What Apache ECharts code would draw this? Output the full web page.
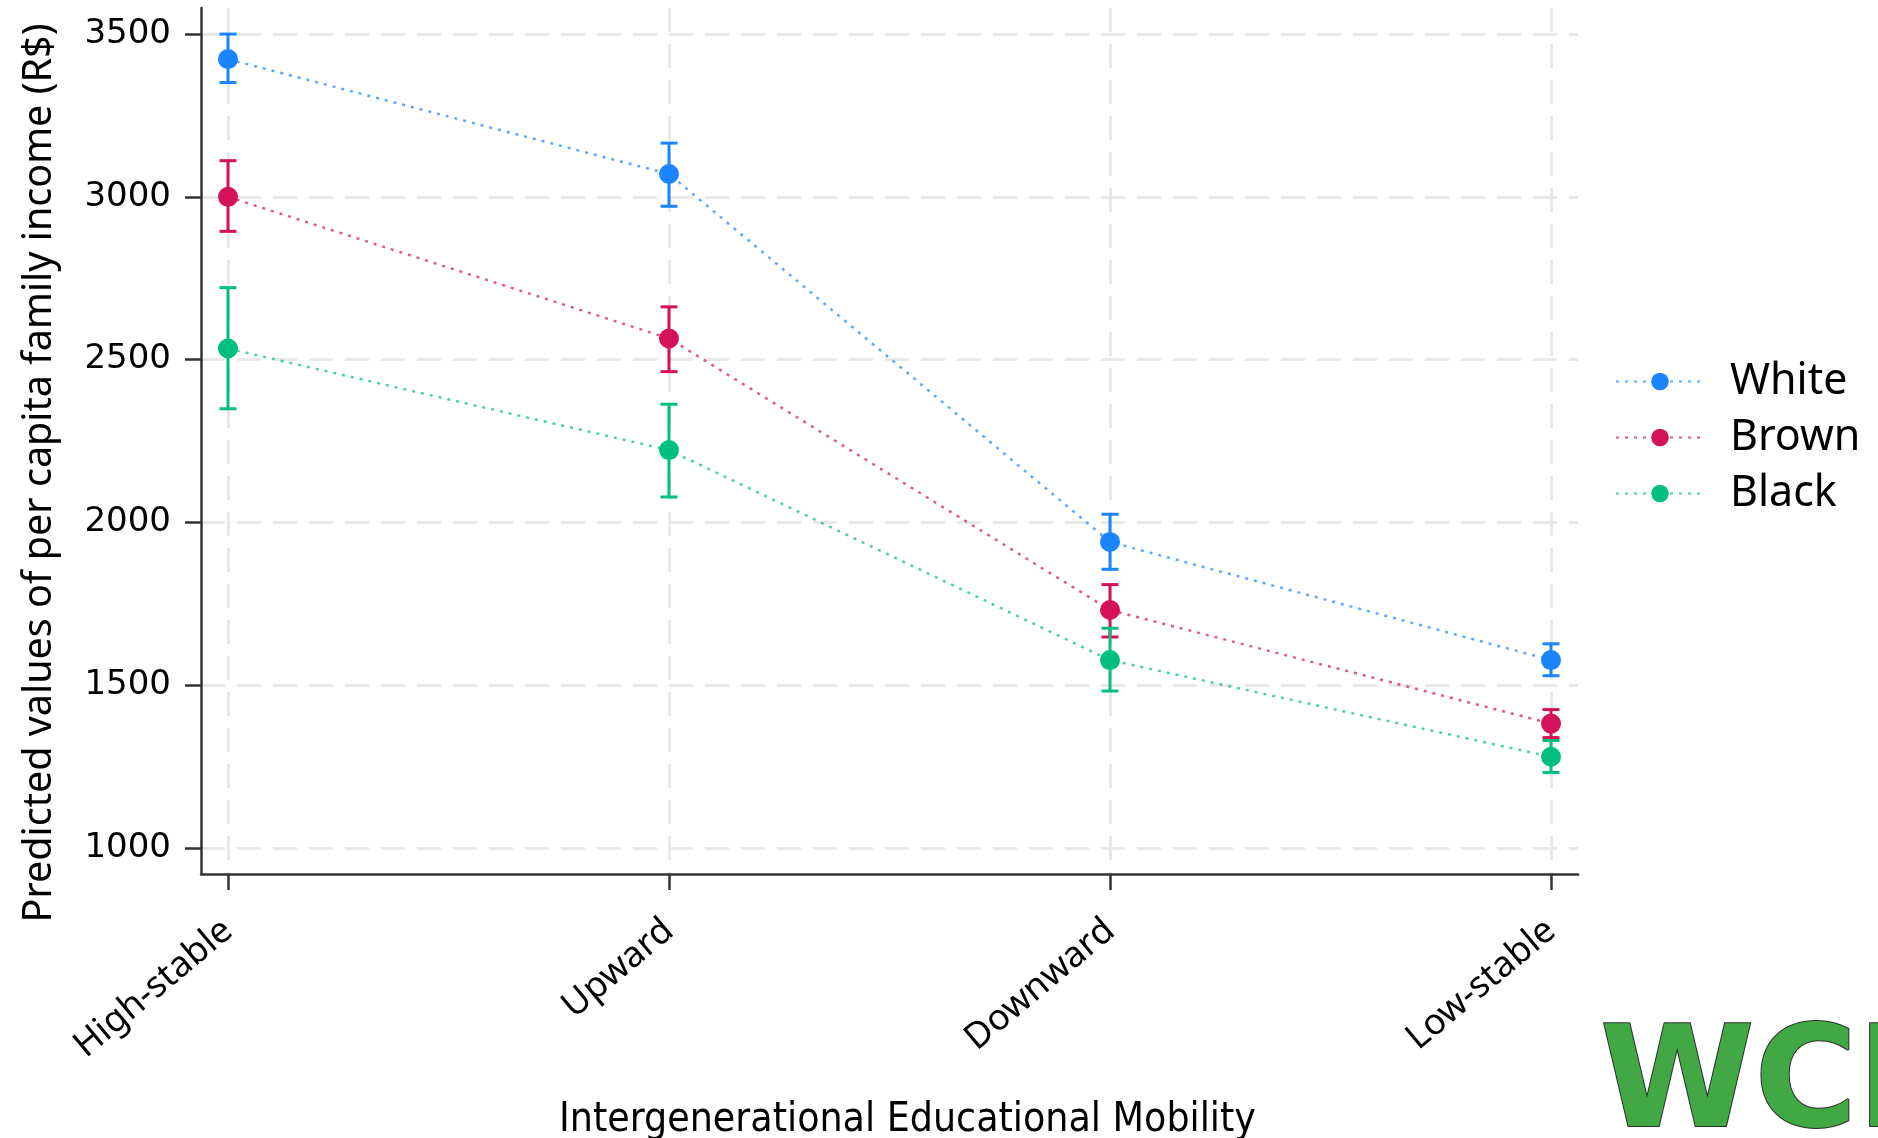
<!DOCTYPE html>
<html>
<head>
<meta charset="utf-8">
<script src="https://cdn.jsdelivr.net/npm/echarts@6/dist/echarts.min.js"></script>
<style>
html, body { margin: 0; padding: 0; background: #fff; }
#chart { width: 1878px; height: 1138px; }
</style>
</head>
<body>
<div id="chart"></div>
<script>
// categories and tick labels
var categories = ['High-stable', 'Upward', 'Downward', 'Low-stable'];
var catTicks = [0, 1, 2, 3];
var yTicks = [1000, 1500, 2000, 2500, 3000, 3500];
var groups = ['White', 'Brown', 'Black'];
var colors = ['#1a85ff', '#d41159', '#00bf7f'];

// predicted values and confidence bounds
var whiteMean = [3423, 3070, 1940, 1577];
var whiteLow  = [3351, 2971, 1856, 1529];
var whiteHigh = [3500, 3165, 2025, 1627];
var brownMean = [3000, 2565, 1731, 1382];
var brownLow  = [2894, 2463, 1648, 1339];
var brownHigh = [3111, 2662, 1809, 1425];
var blackMean = [2534, 2222, 1577, 1280];
var blackLow  = [2349, 2078, 1482, 1232];
var blackHigh = [2721, 2363, 1675, 1330];

var means = [whiteMean, brownMean, blackMean];
var lows = [whiteLow, brownLow, blackLow];
var highs = [whiteHigh, brownHigh, blackHigh];

// error bar with caps
function errorBarItem(params, api) {
    var x = api.value(0);
    var lo = api.coord([x, api.value(1)]);
    var hi = api.coord([x, api.value(2)]);
    var w = 8.5;
    var style = { stroke: api.visual('color'), lineWidth: 3 };
    return {
        type: 'group',
        children: [
            { type: 'line', shape: { x1: lo[0], y1: lo[1], x2: hi[0], y2: hi[1] }, style: style },
            { type: 'line', shape: { x1: lo[0] - w, y1: lo[1], x2: lo[0] + w, y2: lo[1] }, style: style },
            { type: 'line', shape: { x1: hi[0] - w, y1: hi[1], x2: hi[0] + w, y2: hi[1] }, style: style }
        ]
    };
}

var gridLine = { show: true, lineStyle: { color: '#e8e8e8', width: 3, type: [24, 12] } };
var axisColor = '#333';

var series = [];
groups.forEach(function (g, k) {
    series.push({
        name: g + ' CI',
        type: 'custom',
        renderItem: errorBarItem,
        itemStyle: { color: colors[k] },
        encode: { x: 0, y: [1, 2] },
        data: categories.map(function (c, i) { return [i, lows[k][i], highs[k][i]]; }),
        z: 2,
        silent: true
    });
});
groups.forEach(function (g, k) {
    series.push({
        name: g,
        type: 'line',
        symbol: 'circle',
        symbolSize: 20,
        itemStyle: { color: colors[k] },
        lineStyle: { color: colors[k], width: 2.5, type: [3, 6], opacity: 0.7 },
        data: categories.map(function (c, i) { return [i, means[k][i]]; }),
        z: 3,
        silent: true
    });
});

var myChart = echarts.init(document.getElementById('chart'));
myChart.setOption({
    animation: false,
    backgroundColor: '#fff',
    grid: { left: 201, right: 300, top: 8, bottom: 264, outerBoundsMode: 'none' },
    xAxis: {
        type: 'value',
        min: -0.0612,
        max: 3.0612,
        axisLine: { show: true, onZero: false, lineStyle: { color: axisColor, width: 2.5 } },
        axisTick: { show: true, length: 16, customValues: catTicks, lineStyle: { color: axisColor, width: 2.5 } },
        axisLabel: {
            customValues: catTicks,
            formatter: function (v) { return categories[Math.round(v)]; },
            rotate: 40,
            margin: 52,
            fontFamily: 'Noto Sans',
            fontSize: 36,
            color: '#000'
        },
        splitLine: gridLine,
        name: 'Intergenerational Educational Mobility',
        nameLocation: 'middle',
        nameGap: 226,
        nameTextStyle: { fontFamily: '"DejaVu Sans Condensed", Roboto, sans-serif', fontSize: 40.6, color: '#000', padding: [0, 0, 0, 36] }
    },
    yAxis: {
        type: 'value',
        min: 920,
        max: 3580,
        axisLine: { show: true, onZero: false, lineStyle: { color: axisColor, width: 2.5 } },
        axisTick: { show: true, length: 16, customValues: yTicks, lineStyle: { color: axisColor, width: 2.5 } },
        axisLabel: {
            customValues: yTicks,
            formatter: function (v) { return String(v); },
            margin: 30,
            fontFamily: 'DejaVu Sans',
            fontSize: 34,
            color: '#000'
        },
        splitLine: gridLine,
        name: 'Predicted values of per capita family income (R$)',
        nameLocation: 'middle',
        nameGap: 141,
        nameTextStyle: { fontFamily: 'Noto Sans', fontSize: 39.5, color: '#000', padding: [0, 64, 0, 0] }
    },
    legend: {
        data: groups,
        orient: 'vertical',
        left: 1610,
        top: 354,
        itemWidth: 88,
        itemHeight: 22,
        itemGap: 11,
        textStyle: { fontFamily: 'Noto Sans', fontSize: 43, color: '#000', lineHeight: 45, padding: [0, 0, 0, 21] }
    },
    graphic: [{
        type: 'text',
        x: 1600,
        y: 1090,
        silent: true,
        style: {
            text: 'WCI',
            font: 'bold 140px "DejaVu Sans"',
            verticalAlign: 'middle',
            fill: '#42a846',
            stroke: '#2d2d2d',
            lineWidth: 2
        }
    }],
    series: series
});
</script>
</body>
</html>
